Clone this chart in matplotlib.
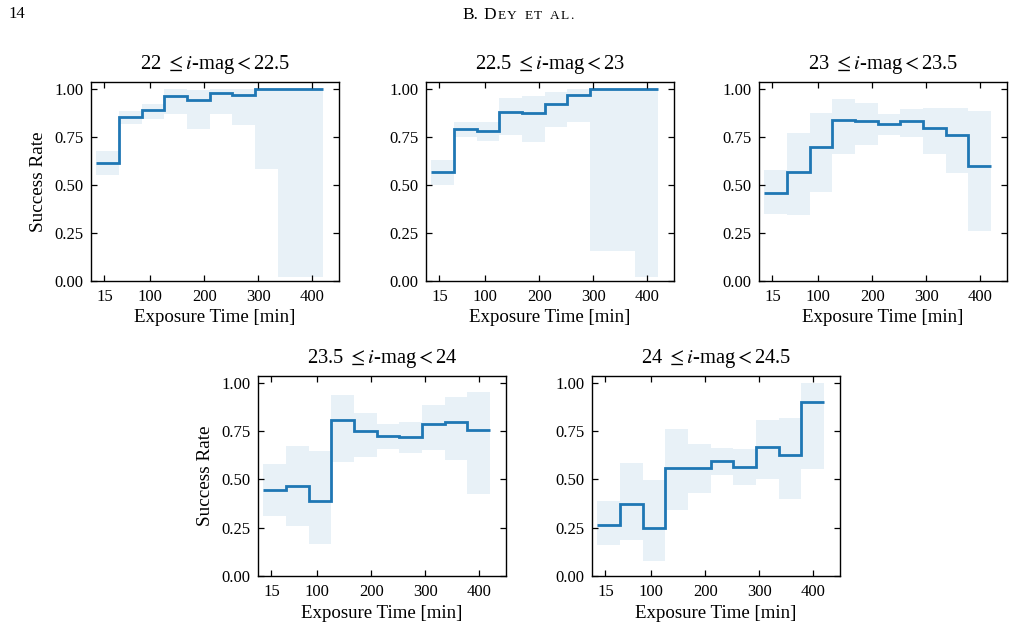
import numpy as np
import matplotlib
matplotlib.use("Agg")
import matplotlib.pyplot as plt

plt.rcParams['font.family'] = ['Liberation Serif', 'DejaVu Serif']
plt.rcParams['mathtext.fontset'] = 'stix'

# Bin edges of exposure time [min]
edges = np.arange(0, 421, 42)

titles = [r'22 $\leq i$-mag$<$22.5', r'22.5 $\leq i$-mag$<$23', r'23 $\leq i$-mag$<$23.5',
          r'23.5 $\leq i$-mag$<$24', r'24 $\leq i$-mag$<$24.5']

rate_1 = [0.615, 0.852, 0.89, 0.963, 0.939, 0.977, 0.965, 1.0, 1.0, 1.0]
low_1 = [0.55, 0.816, 0.843, 0.87, 0.79, 0.87, 0.81, 0.585, 0.02, 0.02]
up_1 = [0.678, 0.885, 0.923, 1.0, 0.995, 1.0, 1.0, 1.0, 1.0, 1.0]

rate_2 = [0.565, 0.791, 0.781, 0.88, 0.875, 0.92, 0.969, 1.0, 1.0, 1.0]
low_2 = [0.50, 0.751, 0.73, 0.76, 0.725, 0.803, 0.826, 0.155, 0.155, 0.02]
up_2 = [0.63, 0.826, 0.826, 0.951, 0.96, 0.981, 1.0, 1.0, 1.0, 1.0]

rate_3 = [0.459, 0.565, 0.697, 0.838, 0.833, 0.817, 0.83, 0.797, 0.76, 0.6]
low_3 = [0.346, 0.341, 0.464, 0.659, 0.708, 0.757, 0.748, 0.661, 0.56, 0.259]
up_3 = [0.577, 0.772, 0.873, 0.948, 0.925, 0.87, 0.894, 0.899, 0.899, 0.882]

rate_4 = [0.445, 0.464, 0.389, 0.806, 0.748, 0.725, 0.72, 0.786, 0.799, 0.753]
low_4 = [0.312, 0.259, 0.168, 0.59, 0.618, 0.658, 0.636, 0.653, 0.599, 0.422]
up_4 = [0.58, 0.671, 0.648, 0.939, 0.846, 0.785, 0.797, 0.886, 0.928, 0.953]

rate_5 = [0.264, 0.371, 0.249, 0.56, 0.557, 0.597, 0.566, 0.669, 0.627, 0.902]
low_5 = [0.159, 0.186, 0.079, 0.343, 0.427, 0.522, 0.469, 0.504, 0.399, 0.553]
up_5 = [0.387, 0.583, 0.496, 0.762, 0.683, 0.662, 0.658, 0.807, 0.82, 1.0]

rates = [rate_1, rate_2, rate_3, rate_4, rate_5]
lows = [low_1, low_2, low_3, low_4, low_5]
ups = [up_1, up_2, up_3, up_4, up_5]

xticks = [15, 100, 200, 300, 400]
yticks = [0.0, 0.25, 0.5, 0.75, 1.0]

W, H = 1014, 632
fig = plt.figure(figsize=(W / 100, H / 100), dpi=100)

# axes boxes in pixels: left, top, right, bottom
boxes = [(91, 82, 339, 281), (426, 82, 674, 281), (759, 82, 1007, 281),
         (258, 376, 506, 576), (592, 376, 840, 576)]

color = '#1f77b4'
for i, (l, t, r, b) in enumerate(boxes):
    ax = fig.add_axes([l / W, 1 - b / H, (r - l) / W, (b - t) / H])
    ax.fill_between(edges, np.append(lows[i], lows[i][-1]), np.append(ups[i], ups[i][-1]),
                    step='post', color=color, alpha=0.1, lw=0)
    ax.stairs(rates[i], edges, baseline=None, color=color, lw=2.0)
    ax.set_xlim(-10, 450)
    ax.set_ylim(0, 1.035)
    ax.set_xticks(xticks)
    ax.set_xticklabels([str(v) for v in xticks])
    ax.set_yticks(yticks)
    ax.set_yticklabels(['%.2f' % v for v in yticks])
    ax.tick_params(direction='in', top=True, right=True, length=4.5, width=0.9,
                   labelsize=12)
    ax.tick_params(axis='x', pad=5.5)
    ax.tick_params(axis='y', pad=5.5)
    for s in ax.spines.values():
        s.set_linewidth(1.0)
    ax.set_xlabel('Exposure Time [min]', fontsize=13.6, labelpad=3.5)
    if i in (0, 3):
        ax.set_ylabel('Success Rate', fontsize=13.8, labelpad=5)
    ax.set_title(titles[i], fontsize=14.8, pad=9)

# page header: "14" and small-caps running head
fig.text(8 / W, 1 - 14 / H, '14', fontsize=12, va='center', ha='left')
renderer = fig.canvas.get_renderer()
x = 462
pieces = [('B.', 12.5, 6), ('D', 12.5, 1.2), ('E', 9.6, 1.2), ('Y', 9.6, 8),
          ('E', 9.6, 1.2), ('T', 9.6, 8), ('A', 9.6, 1.2), ('L', 9.6, 1.2), ('.', 9.6, 0)]
for txt, fs, gap in pieces:
    t = fig.text(x / W, 1 - 19 / H, txt, fontsize=fs, va='baseline', ha='left')
    bb = t.get_window_extent(renderer)
    x = bb.x1 + gap

fig.savefig('out.png', dpi=100)
